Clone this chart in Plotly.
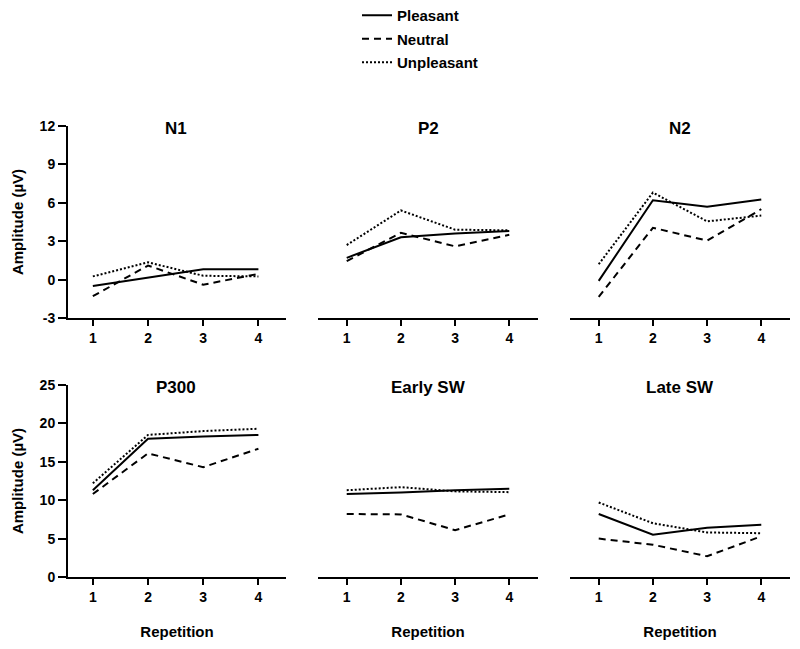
import plotly.graph_objects as go

repetition = [1, 2, 3, 4]
conditions = ["Pleasant", "Neutral", "Unpleasant"]
components = ["N1", "P2", "N2", "P300", "Early SW", "Late SW"]

# Amplitude (µV) per component, per condition, for repetitions 1..4
n1_pleasant = [-0.5, 0.15, 0.8, 0.8]
n1_neutral = [-1.3, 1.1, -0.4, 0.45]
n1_unpleasant = [0.25, 1.35, 0.3, 0.25]

p2_pleasant = [1.7, 3.3, 3.6, 3.8]
p2_neutral = [1.45, 3.65, 2.6, 3.5]
p2_unpleasant = [2.7, 5.4, 3.9, 3.85]

n2_pleasant = [-0.1, 6.2, 5.7, 6.25]
n2_neutral = [-1.35, 4.05, 3.05, 5.5]
n2_unpleasant = [1.2, 6.8, 4.55, 5.0]

p300_pleasant = [11.3, 18.0, 18.3, 18.5]
p300_neutral = [10.8, 16.1, 14.3, 16.7]
p300_unpleasant = [12.2, 18.5, 19.0, 19.3]

esw_pleasant = [10.8, 11.0, 11.3, 11.5]
esw_neutral = [8.2, 8.15, 6.1, 8.15]
esw_unpleasant = [11.3, 11.7, 11.15, 11.05]

lsw_pleasant = [8.2, 5.5, 6.4, 6.8]
lsw_neutral = [5.0, 4.2, 2.7, 5.3]
lsw_unpleasant = [9.7, 7.0, 5.8, 5.7]

top_ticks = [-3, 0, 3, 6, 9, 12]
top_tick_labels = ["-3", "0", "3", "6", "9", "12"]
bottom_ticks = [0, 5, 10, 15, 20, 25]
bottom_tick_labels = ["0", "5", "10", "15", "20", "25"]

panel_data = [
    [n1_pleasant, n1_neutral, n1_unpleasant],
    [p2_pleasant, p2_neutral, p2_unpleasant],
    [n2_pleasant, n2_neutral, n2_unpleasant],
    [p300_pleasant, p300_neutral, p300_unpleasant],
    [esw_pleasant, esw_neutral, esw_unpleasant],
    [lsw_pleasant, lsw_neutral, lsw_unpleasant],
]

# page body has an 8px margin, so the figure origin sits at (8, 8) on screen
OFF = 8
W, H = 800 - OFF, 649 - OFF
FONT = "Liberation Sans"
dash_styles = ["solid", "7px,5px", "2px,2px"]

# plot region in figure pixels
L, R, T, B = 68 - OFF, 790 - OFF, 126 - OFF, 577 - OFF
PW, PH = R - L, B - T

x_px = [(68, 286), (318, 538), (570, 790)]
x_ranges = [[0.55, 4.5], [0.47, 4.53], [0.47, 4.53]]
y_px = [(126, 318), (385, 577)]


def bold(size):
    return dict(family=FONT, size=size, weight="bold", color="black")


def xdom(a, b):
    return [(a - OFF - L) / PW, (b - OFF - L) / PW]


def ydom(top, bottom):
    return [(B - (bottom - OFF)) / PH, (B - (top - OFF)) / PH]


fig = go.Figure()
layout = dict(
    width=W, height=H,
    margin=dict(l=L, r=W - R, t=T, b=H - B, autoexpand=False),
    paper_bgcolor="white", plot_bgcolor="white",
    font=dict(family=FONT, color="black"),
    showlegend=True,
    legend=dict(
        x=(357 - OFF - L) / PW, y=(B - (-9)) / PH, xanchor="left", yanchor="top",
        font=bold(15),
        traceorder="grouped", tracegroupgap=1,
        bgcolor="rgba(0,0,0,0)", itemwidth=30,
    ),
)
annotations = []

for i, comp in enumerate(components):
    row, col = divmod(i, 3)
    idx = i + 1
    xa = "xaxis" if idx == 1 else f"xaxis{idx}"
    ya = "yaxis" if idx == 1 else f"yaxis{idx}"
    xref = "x" if idx == 1 else f"x{idx}"
    yref = "y" if idx == 1 else f"y{idx}"
    x0, x1 = x_px[col]
    yt, yb = y_px[row]
    ticks = top_ticks if row == 0 else bottom_ticks
    tick_labels = top_tick_labels if row == 0 else bottom_tick_labels

    layout[xa] = dict(
        domain=xdom(x0, x1), range=x_ranges[col], anchor=yref,
        tickvals=repetition, ticktext=[str(r) for r in repetition],
        showline=True, linecolor="black", linewidth=2,
        ticks="outside", ticklen=6, tickwidth=2, tickcolor="black",
        showgrid=False, zeroline=False, fixedrange=True, automargin=False,
        tickfont=bold(14),
    )
    if row == 1:
        layout[xa]["title"] = dict(text="Repetition", standoff=23, font=bold(15))
    layout[ya] = dict(
        domain=ydom(yt, yb), range=[ticks[0], ticks[-1]], anchor=xref,
        tickvals=ticks, ticktext=tick_labels,
        showgrid=False, zeroline=False, fixedrange=True, automargin=False,
    )
    if col == 0:
        layout[ya].update(
            showline=True, linecolor="black", linewidth=2,
            ticks="outside", ticklen=8, tickwidth=2, tickcolor="black",
            tickfont=bold(14),
            title=dict(text="Amplitude (µV)", standoff=12, font=bold(15)),
        )
    else:
        layout[ya].update(showline=False, showticklabels=False, ticks="")

    for c, cond in enumerate(conditions):
        fig.add_trace(go.Scatter(
            x=repetition, y=panel_data[i][c], mode="lines",
            line=dict(color="black", width=2, dash=dash_styles[c]),
            name=cond, legendgroup=cond, showlegend=(i == 0),
            xaxis=xref, yaxis=yref, hoverinfo="skip",
        ))

    annotations.append(dict(
        text=comp, xref=xref, yref=f"{yref} domain", x=2.5, y=1,
        xanchor="center", yanchor="middle", yshift=-2, showarrow=False,
        font=bold(17),
    ))

layout["annotations"] = annotations
fig.update_layout(**layout)
fig.write_html("out.html")
